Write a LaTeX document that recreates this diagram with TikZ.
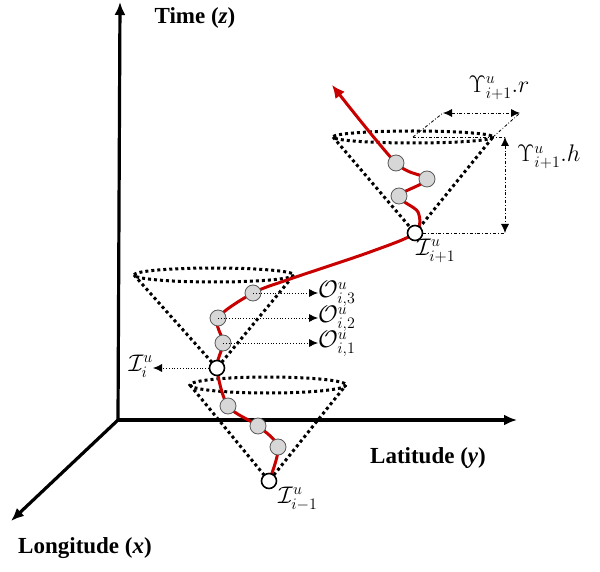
\RequirePackage{fix-cm}
\documentclass[tikz,border=0pt]{standalone}
\usepackage{fontspec}
\setmainfont{Liberation Serif}
\usepackage{amsmath}
\usetikzlibrary{arrows.meta, positioning}
\DeclareMathSizes{24}{24}{16}{12}
\newcommand{\tightscripts}{\fontdimen13\textfont2=8.3pt \fontdimen17\textfont2=5.3pt }
\definecolor{pathred}{RGB}{200,0,0}
\definecolor{obsgray}{RGB}{215,215,215}
\tikzstyle{axis} = [line width=3.2pt, 
-{Latex[length=13pt,width=11pt]}]
\tikzstyle{axislabel} = [font=\fontsize{23}{27}\selectfont\bfseries, 
inner sep=0pt]
\tikzstyle{cone} = [line width=3pt, 
dash pattern=on 3pt off 3pt]
\tikzstyle{trajectory} = [pathred, 
line width=3pt]
\tikzstyle{anchorpt} = [circle, 
draw=black, 
fill=white, 
line width=1.6pt, 
minimum size=15pt, 
inner sep=0pt]
\tikzstyle{obspt} = [circle, 
draw=black!65, 
fill=obsgray, 
line width=0.8pt, 
minimum size=16pt, 
inner sep=0pt]
\tikzstyle{pointer} = [line width=0.8pt, dotted, -{Latex[length=9pt,width=8pt]}]
\tikzstyle{dimline} = [line width=0.8pt, dash dot]
\tikzstyle{mathlabel} = [font=\fontsize{24}{28}\selectfont, inner sep=0pt]

\begin{document}
\begin{tikzpicture}[x=1pt, y=-1pt]
        \useasboundingbox (0,0) rectangle (600,572);

        % Ejes
        \coordinate (origin) at (118,420);
        \coordinate (zend) at (120,2);
        \coordinate (yend) at (517,420);
        \coordinate (xend) at (11,521);
        \draw [axis] (origin) -- (zend);
        \draw [axis] (origin) -- (yend);
        \draw [axis] (origin) -- (xend);
        \node (zlab) [axislabel] at (195,18) {Time (\textit{z})};
        \node (ylab) [axislabel] at (428,458) {Latitude (\textit{y})};
        \node (xlab) [axislabel] at (85,548) {Longitude (\textit{x})};

        % Puntos de la trayectoria
        \coordinate (im1c) at (269,481);
        \coordinate (a3c) at (278,447);
        \coordinate (a2c) at (258,426);
        \coordinate (a1c) at (228,406);
        \coordinate (iic) at (217,368);
        \coordinate (o1c) at (223,343);
        \coordinate (o2c) at (218,318);
        \coordinate (o3c) at (253,293);
        \coordinate (m1) at (290,279);
        \coordinate (m2) at (370,252);
        \coordinate (ip1c) at (415,233);
        \coordinate (m3) at (418,212);
        \coordinate (b3c) at (399,196);
        \coordinate (b2c) at (427,179);
        \coordinate (b1c) at (396,163);
        \coordinate (tip) at (332,85);

        % Conos
        \coordinate (lc) at (268,385);
        \coordinate (lcL) at (190,385);
        \coordinate (lcR) at (346,385);
        \coordinate (mc) at (214,275);
        \coordinate (mcL) at (134,275);
        \coordinate (mcR) at (294,275);
        \coordinate (uc) at (413,137);
        \coordinate (ucL) at (333,137);
        \coordinate (ucR) at (493,137);
        \draw [cone] (lc) ellipse [x radius=78, y radius=8];
        \draw [cone] (lcL) -- (im1c) -- (lcR);
        \draw [cone] (mc) ellipse [x radius=80, y radius=7];
        \draw [cone] (mcL) -- (iic) -- (mcR);
        \draw [cone] (uc) ellipse [x radius=80, y radius=6];
        \draw [cone] (ucL) -- (ip1c) -- (ucR);

        % Cotas del cono superior
        \coordinate (rA) at (443,113);
        \coordinate (rB) at (520,113);
        \coordinate (hT) at (505,137);
        \coordinate (hB) at (505,233);
        \draw [dimline] (uc) -- (rA);
        \draw [dimline] (ucR) -- (rB);
        \draw [dimline, {Latex[length=9pt,width=8pt]}-{Latex[length=9pt,width=8pt]}] (rA) -- (rB);
        \draw [dimline] (uc) -- (hT);
        \draw [dimline] (ip1c) -- (hB);
        \draw [dimline, {Latex[length=9pt,width=8pt]}-{Latex[length=9pt,width=8pt]}] (hT) -- (hB);
        \node (rlab) [mathlabel] at (499,88) {$\tightscripts\Upsilon^{u}_{i+1}.r$};
        \node (hlab) [mathlabel, anchor=west] at (517,157) {$\tightscripts\Upsilon^{u}_{i+1}.h$};

        % Trayectoria
        \draw [trajectory, -{Latex[length=13pt,width=12pt]}] plot[smooth, tension=0.5] coordinates {(im1c) (a3c) (a2c) (a1c) (iic) (o1c) (o2c) (o3c) (m1) (m2) (ip1c) (m3) (b3c) (b2c) (b1c) (tip)};

        % Observaciones
        \node (a1) [obspt] at (a1c) {};
        \node (a2) [obspt] at (a2c) {};
        \node (a3) [obspt] at (a3c) {};
        \node (o1) [obspt] at (o1c) {};
        \node (o2) [obspt] at (o2c) {};
        \node (o3) [obspt] at (o3c) {};
        \node (b1) [obspt] at (b1c) {};
        \node (b2) [obspt] at (b2c) {};
        \node (b3) [obspt] at (b3c) {};
        \node (im1) [anchorpt] at (im1c) {};
        \node (ii) [anchorpt] at (iic) {};
        \node (ip1) [anchorpt] at (ip1c) {};

        % Etiquetas
        \node (lo3) [mathlabel, anchor=west] at (318,294) {$\tightscripts\mathcal{O}^{u}_{i,3}$};
        \node (lo2) [mathlabel, anchor=west] at (318,319) {$\tightscripts\mathcal{O}^{u}_{i,2}$};
        \node (lo1) [mathlabel, anchor=west] at (318,344) {$\tightscripts\mathcal{O}^{u}_{i,1}$};
        \node (lii) [mathlabel, anchor=east] at (153,366) {$\tightscripts\mathcal{I}^{u}_{i}$};
        \node (lip1) [mathlabel, anchor=north west] at (416,239) {$\tightscripts\mathcal{I}^{u}_{i+1}$};
        \node (lim1) [mathlabel, anchor=north west] at (278,487) {$\tightscripts\mathcal{I}^{u}_{i-1}$};
        \draw [pointer] (o3.center) -- (o3.center -| lo3.west);
        \draw [pointer] (o2.center) -- (o2.center -| lo2.west);
        \draw [pointer] (o1.center) -- (o1.center -| lo1.west);
        \draw [pointer] (ii.west) -- (ii.west -| lii.east);

    \end{tikzpicture}
\end{document}
